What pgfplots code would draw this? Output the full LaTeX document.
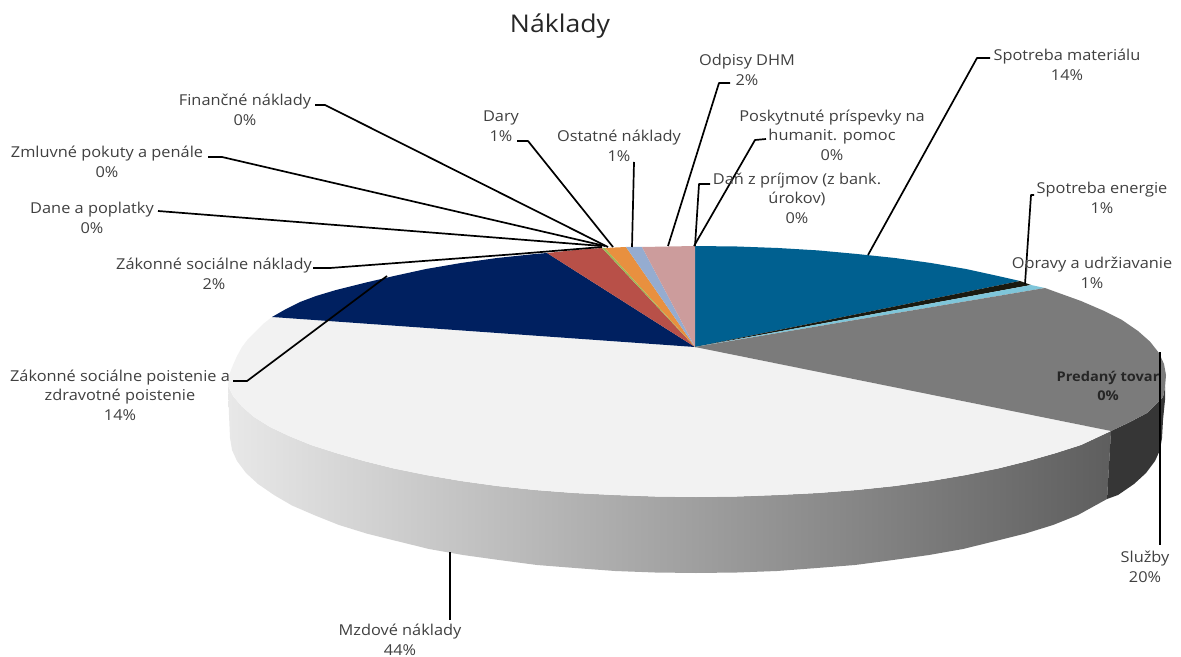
\documentclass[border=0pt]{standalone}
\usepackage{fontspec}
\setmainfont[FakeStretch=1.09]{Open Sans}
\usepackage{pgfplots}
\pgfplotsset{compat=1.18}
\definecolor{cBlue}{HTML}{006090}
\definecolor{cBlack}{HTML}{1A1A10}
\definecolor{cLBlue}{HTML}{7FC6DA}
\definecolor{cGray}{HTML}{7B7B7B}
\definecolor{cWhite}{HTML}{F2F2F2}
\definecolor{cNavy}{HTML}{002060}
\definecolor{cRed}{HTML}{B85048}
\definecolor{cGreen}{HTML}{9BBB59}
\definecolor{cOrange}{HTML}{E8903F}
\definecolor{cPeri}{HTML}{95ACD0}
\definecolor{cPink}{HTML}{CC9C9C}
\definecolor{cSideL}{HTML}{E8E8E8}
\definecolor{cSideM}{HTML}{A8A8A8}
\definecolor{cSideR}{HTML}{5E5E5E}
\definecolor{cDark}{HTML}{363636}
\definecolor{cText}{HTML}{404040}
\tikzset{lab/.style={font=\fontsize{7.5}{9.75}\selectfont,text=cText,align=center,inner sep=0pt},
 leader/.style={black,line width=0.85pt,line join=round}}
\begin{document}
\begin{tikzpicture}
\useasboundingbox (0,0) rectangle (590.5pt,328.5pt);
\begin{axis}[at={(0,0)},anchor=south west,scale only axis,width=590.5pt,height=328.5pt,xmin=0,xmax=1181,ymin=0,ymax=657,y dir=reverse,hide axis,clip=false]
% side of the pie
\addplot[draw=none,left color=cSideL,middle color=cSideM,right color=cSideR] coordinates {
(228,386)(233,396)(242,406.6)(254,417)(270,427)(289,436)(311,445)(336,453)(364,461)(394,468.5)(426,475)(461,481)(497,486)(535,490)(574,493)(614,495)(655,496.5)(696,497)(737,496.5)(778,495)(818,493)(857,490)(895,486)(931,481)(966,475)(998,468.5)(1028,461)(1056,453)(1081,445)(1111,431)
(1107,499)(1078,515)(1053,525)(1025.5,533.5)(995.5,541)(963,549)(929,555)(893,560)(855,565)(817,568)(777,571)(737,572.5)(696,573)(655,572.5)(615,571)(575,568)(537,565)(499,560)(463,555)(429,549)(396.5,541)(366.5,533.5)(339,525)(314,515)(292,505.5)(274,495)(258,484)(246,473)(237,461)(232,450)(230,438)(229,415)};
\addplot[draw=none,fill=cDark] coordinates {
(1111,431)(1130,422)(1147,413)(1158,402)(1163,397)(1165,387)(1165,400)(1163,420)(1162,438)(1160,450)(1155,461)(1146,473)(1134,484)(1118,495)(1107,499)};
% top sectors
\addplot[draw=none,fill=cWhite] coordinates {
(695,347)(1111,431)(1081,445)(1056,453)(1028,461)(998,468.5)(966,475)(931,481)(895,486)(857,490)(818,493)(778,495)(737,496.5)(696,497)(655,496.5)(614,495)(574,493)(535,490)(497,486)(461,481)(426,475)(394,468.5)(364,461)(336,453)(311,445)(289,436)(270,427)(254,417)(242,406.6)(233,396)(228,386)(229,375)(233,365)(237,356)(242,347)(248,339)(256,331)(263,324)(272,317)};
\addplot[draw=none,fill=cBlue] coordinates {
(695,347)(695,246)(737,246.5)(778,248)(818,250.4)(857,254)(895,258)(931,263)(966,269)(998,276)(1020,281)};
\addplot[draw=none,fill=cBlack] coordinates {(695,347)(1020,281)(1031,285)};
\addplot[draw=none,fill=cLBlue] coordinates {(695,347)(1031,285)(1045,288)};
\addplot[draw=none,fill=cGray] coordinates {
(695,347)(1045,288)(1056,292)(1081,301)(1103,310.5)(1122,320)(1138,331)(1150,341.6)(1159,353)(1164,364)(1166,375)(1165,387)(1163,397)(1158,402)(1147,413)(1130,422)(1111,431)};
\addplot[draw=none,fill=cNavy] coordinates {
(695,347)(272,317)(286,309)(300,302)(316,296)(336,290)(364,283)(394,276)(426,269)(461,263)(497,258)(535,254)(547,253)};
\addplot[draw=none,fill=cRed] coordinates {(695,347)(547,253)(575,250)(602,248)};
\addplot[draw=none,fill=cGreen] coordinates {(695,347)(602,248)(605,248)};
\addplot[draw=none,fill=cOrange] coordinates {(695,347)(605,248)(626,247)};
\addplot[draw=none,fill=cPeri] coordinates {(695,347)(626,247)(642,247)};
\addplot[draw=none,fill=cPink] coordinates {(695,347)(642,247)(695,246)};
% leader lines
\addplot[leader] coordinates {(868,255)(977,58)(990,58)};
\addplot[leader] coordinates {(1025,284)(1031,195)(1034,195)};
\addplot[leader] coordinates {(1160,352)(1160,545)};
\addplot[leader] coordinates {(450,552)(450,620)};
\addplot[leader] coordinates {(387,276)(247,381)(233,381)};
\addplot[leader] coordinates {(313,268)(330,268)(517,254)(602,247)};
\addplot[leader] coordinates {(158,211)(602,246)};
\addplot[leader] coordinates {(208,157)(222,157)(605,246)};
\addplot[leader] coordinates {(315,105)(325,105)(608,247)};
\addplot[leader] coordinates {(517,141)(528,141)(613,247)};
\addplot[leader] coordinates {(634,162)(632,247)};
\addplot[leader] coordinates {(730,83)(719,83)(668,246)};
\addplot[leader] coordinates {(766,139)(755,140)(694,246)};
\addplot[leader] coordinates {(710,184)(699,184)(695,246)};
% labels
\node[font=\fontsize{12.2}{15}\selectfont,text=black!85,inner sep=0pt] at (axis cs:560,26) {Náklady};
\node[lab] at (axis cs:1067,65) {Spotreba materiálu\\14\%};
\node[lab] at (axis cs:1102,198) {Spotreba energie\\1\%};
\node[lab] at (axis cs:1092,273) {Opravy a udržiavanie\\1\%};
\node[lab,font=\fontsize{6.7}{9.75}\selectfont\bfseries,text=black!85] at (axis cs:1108,386) {Predaný tovar\\0\%};
\node[lab] at (axis cs:1145,567) {Služby\\20\%};
\node[lab] at (axis cs:400,640) {Mzdové náklady\\44\%};
\node[lab] at (axis cs:120,395) {Zákonné sociálne poistenie a\\zdravotné poistenie\\14\%};
\node[lab] at (axis cs:214,274) {Zákonné sociálne náklady\\2\%};
\node[lab] at (axis cs:92,218) {Dane a poplatky\\0\%};
\node[lab] at (axis cs:107,162) {Zmluvné pokuty a penále\\0\%};
\node[lab] at (axis cs:245,110) {Finančné náklady\\0\%};
\node[lab] at (axis cs:501,126) {Dary\\1\%};
\node[lab] at (axis cs:619,146) {Ostatné náklady\\1\%};
\node[lab] at (axis cs:747,70) {Odpisy DHM\\2\%};
\node[lab] at (axis cs:832,135) {Poskytnuté príspevky na\\humanit. pomoc\\0\%};
\node[lab] at (axis cs:797,198) {Daň z príjmov (z bank.\\úrokov)\\0\%};
\end{axis}
\end{tikzpicture}
\end{document}
